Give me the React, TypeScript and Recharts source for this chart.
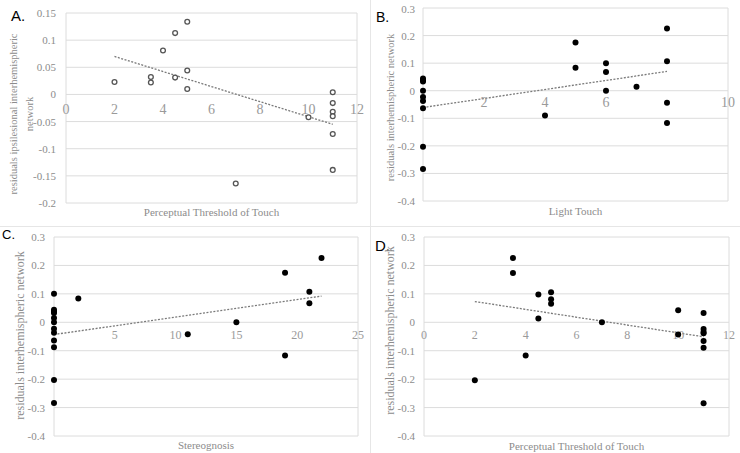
import { ScatterChart, Scatter, XAxis, YAxis, CartesianGrid, ReferenceLine, ReferenceDot } from 'recharts';

const serif = '"Liberation Serif", "Times New Roman", serif';
const sans = '"Liberation Sans", Arial, sans-serif';
const tickGrey = '#8c8c8c';
const gridGrey = '#dcdcdc';

// A. ipsilesional network vs perceptual threshold of touch (open markers)
const aX = [2, 3.5, 3.5, 4, 4.5, 4.5, 5, 5, 5, 7, 10, 11, 11, 11, 11, 11, 11];
const aY = [0.023, 0.032, 0.022, 0.081, 0.113, 0.031, 0.134, 0.044, 0.01, -0.164, -0.042, 0.004, -0.016, -0.032, -0.04, -0.073, -0.139];
const aTrend = [{ x: 2, y: 0.07 }, { x: 11, y: -0.055 }];
const aXTicks = [0, 2, 4, 6, 8, 10, 12];
const aYTicks = [-0.2, -0.15, -0.1, -0.05, 0, 0.05, 0.1, 0.15];

// B. interhemispheric network vs light touch
const bX = [0, 0, 0, 0, 0, 0, 0, 0, 0, 4, 5, 5, 6, 6, 6, 7, 8, 8, 8, 8];
const bY = [0.044, 0.038, 0.033, 0, -0.023, -0.037, -0.064, -0.203, -0.284, -0.09, 0.175, 0.083, 0.1, 0.068, 0, 0.014, 0.226, 0.107, -0.044, -0.117];
const bTrend = [{ x: 0, y: -0.061 }, { x: 8, y: 0.07 }];
const bXTicks = [0, 2, 4, 6, 8, 10];
const bXLabels = [2, 4, 6, 10];

// C. interhemispheric network vs stereognosis
const cX = [0, 0, 0, 0, 0, 0, 0, 0, 0, 0, 0, 0, 2, 11, 15, 19, 19, 21, 21, 22];
const cY = [0.1, 0.044, 0.038, 0.033, 0.015, 0, -0.023, -0.037, -0.064, -0.088, -0.203, -0.284, 0.084, -0.042, 0, 0.174, -0.117, 0.107, 0.067, 0.226];
const cTrend = [{ x: 0, y: -0.043 }, { x: 22, y: 0.092 }];
const cXTicks = [0, 5, 10, 15, 20, 25];
const cXLabels = [5, 10, 15, 20, 25];

// D. interhemispheric network vs perceptual threshold of touch
const dX = [2, 3.5, 3.5, 4, 4.5, 4.5, 5, 5, 5, 7, 10, 10, 11, 11, 11, 11, 11, 11, 11];
const dY = [-0.204, 0.226, 0.173, -0.117, 0.098, 0.013, 0.106, 0.081, 0.065, 0, 0.042, -0.043, 0.033, -0.024, -0.034, -0.039, -0.066, -0.09, -0.285];
const dTrend = [{ x: 2, y: 0.073 }, { x: 11, y: -0.051 }];
const dXTicks = [0, 2, 4, 6, 8, 10, 12];

const wideYTicks = [-0.4, -0.3, -0.2, -0.1, 0, 0.1, 0.2, 0.3];

const toPoints = (xs: number[], ys: number[]) => xs.map((x, i) => ({ x, y: ys[i] }));

const OpenDot = (p: any) => <circle cx={p.cx} cy={p.cy} r={2.4} fill="#fff" stroke="#555" strokeWidth={1.3} />;
const SolidDot = (p: any) => <circle cx={p.cx} cy={p.cy} r={3} fill="#000" />;

interface PanelProps {
  letter: string;
  letterStyle: React.CSSProperties;
  left: number;
  top: number;
  height: number;
  plot: { top: number; right: number; left: number; bottom: number };
  data: { x: number; y: number }[];
  trend: { x: number; y: number }[];
  xDomain: [number, number];
  xTicks: number[];
  xLabels: number[];
  xLabelSize: number;
  xLabelDrop: number;
  yDomain: [number, number];
  yTicks: number[];
  yTickGap: number;
  yTitle: string[];
  yTitleX: number[];
  yTitleDy: number;
  yTitleSize: number;
  xTitle: string;
  xTitleDy: number;
  xTitleSize: number;
  open?: boolean;
}

const Panel = (p: PanelProps) => {
  const width = 370;
  return (
    <div style={{ position: 'absolute', left: p.left, top: p.top, width, height: p.height }}>
      <div style={{ position: 'absolute', fontFamily: sans, color: '#000', lineHeight: 1, ...p.letterStyle }}>{p.letter}</div>
      <ScatterChart width={width} height={p.height} margin={{ top: p.plot.top, right: p.plot.right, left: 0, bottom: 0 }}>
        <CartesianGrid stroke={gridGrey} />
        <XAxis
          type="number"
          dataKey="x"
          domain={p.xDomain}
          ticks={p.xTicks}
          tick={false}
          tickLine={false}
          axisLine={false}
          height={p.plot.bottom}
          label={({ viewBox }: any) => (
            <text
              x={viewBox.x + viewBox.width / 2}
              y={viewBox.y + p.xTitleDy}
              textAnchor="middle"
              dominantBaseline="central"
              fill={tickGrey}
              fontSize={p.xTitleSize}
              fontFamily={serif}
            >
              {p.xTitle}
            </text>
          )}
        />
        <YAxis
          type="number"
          dataKey="y"
          domain={p.yDomain}
          ticks={p.yTicks}
          width={p.plot.left}
          tickLine={false}
          axisLine={false}
          tickSize={0}
          tickMargin={p.yTickGap}
          tick={(t: any) => (
            <text x={t.x} y={t.y} textAnchor="end" dominantBaseline="central" fill={tickGrey} fontSize={11} fontFamily={serif}>
              {String(t.payload.value)}
            </text>
          )}
          label={({ viewBox }: any) => {
            const cy = viewBox.y + viewBox.height / 2 + p.yTitleDy;
            return (
              <g>
                {p.yTitle.map((line, i) => (
                  <text
                    key={line}
                    x={p.yTitleX[i]}
                    y={cy}
                    transform={`rotate(-90 ${p.yTitleX[i]} ${cy})`}
                    textAnchor="middle"
                    dominantBaseline="central"
                    fill={tickGrey}
                    fontSize={p.yTitleSize}
                    fontFamily={serif}
                  >
                    {line}
                  </text>
                ))}
              </g>
            );
          }}
        />
        {p.xLabels.map((t) => (
          <ReferenceDot
            key={t}
            x={t}
            y={0}
            r={0}
            fill="none"
            stroke="none"
            label={({ viewBox }: any) => (
              <text x={viewBox.x + viewBox.width / 2} y={viewBox.y + viewBox.height / 2 + p.xLabelDrop} textAnchor="middle" fill="#9a9a9a" fontSize={p.xLabelSize} fontFamily={serif}>
                {String(t)}
              </text>
            )}
          />
        ))}
        <ReferenceLine segment={p.trend} stroke="#7a7a7a" strokeWidth={1.3} strokeDasharray="2 1.5" />
        <Scatter data={p.data} shape={p.open ? OpenDot : SolidDot} isAnimationActive={false} />
      </ScatterChart>
    </div>
  );
};

export default function App() {
  return (
    <div style={{ position: 'absolute', left: 0, top: 0, width: 740, height: 453, background: '#fff', overflow: 'hidden' }}>
      <div style={{ position: 'absolute', left: 370, top: 0, width: 1, height: 453, background: '#e6e6e6' }} />
      <div style={{ position: 'absolute', left: 0, top: 226, width: 740, height: 1, background: '#e6e6e6' }} />
      <Panel
        letter="A."
        letterStyle={{ left: 11, top: 8, fontSize: 15 }}
        left={0}
        top={0}
        height={226}
        plot={{ top: 13, right: 13, left: 66, bottom: 23 }}
        data={toPoints(aX, aY)}
        trend={aTrend}
        xDomain={[0, 12]}
        xTicks={aXTicks}
        xLabels={aXTicks}
        xLabelSize={14}
        xLabelDrop={20}
        yDomain={[-0.2, 0.15]}
        yTicks={aYTicks}
        yTickGap={10}
        yTitle={['residuals ipsilesional interhemispheric', 'network']}
        yTitleX={[13, 29]}
        yTitleDy={6}
        yTitleSize={10.5}
        xTitle="Perceptual Threshold of Touch"
        xTitleDy={9}
        xTitleSize={11}
        open
      />
      <Panel
        letter="B."
        letterStyle={{ left: 6, top: 10, fontSize: 14 }}
        left={370}
        top={0}
        height={226}
        plot={{ top: 8, right: 12, left: 53, bottom: 25 }}
        data={toPoints(bX, bY)}
        trend={bTrend}
        xDomain={[0, 10]}
        xTicks={bXTicks}
        xLabels={bXLabels}
        xLabelSize={14}
        xLabelDrop={16}
        yDomain={[-0.4, 0.3]}
        yTicks={wideYTicks}
        yTickGap={8}
        yTitle={['residuals interhemispheric network']}
        yTitleX={[20]}
        yTitleDy={3}
        yTitleSize={10.5}
        xTitle="Light Touch"
        xTitleDy={10}
        xTitleSize={11}
      />
      <Panel
        letter="C."
        letterStyle={{ left: 2, top: 2, fontSize: 13 }}
        left={0}
        top={226}
        height={227}
        plot={{ top: 11, right: 12, left: 54, bottom: 17 }}
        data={toPoints(cX, cY)}
        trend={cTrend}
        xDomain={[0, 25]}
        xTicks={cXTicks}
        xLabels={cXLabels}
        xLabelSize={12}
        xLabelDrop={17}
        yDomain={[-0.4, 0.3]}
        yTicks={wideYTicks}
        yTickGap={9}
        yTitle={['residuals  interhemispheric  network']}
        yTitleX={[20]}
        yTitleDy={-1}
        yTitleSize={12}
        xTitle="Stereognosis"
        xTitleDy={9}
        xTitleSize={11}
      />
      <Panel
        letter="D."
        letterStyle={{ left: 5, top: 12, fontSize: 15 }}
        left={370}
        top={226}
        height={227}
        plot={{ top: 11, right: 11, left: 54, bottom: 17 }}
        data={toPoints(dX, dY)}
        trend={dTrend}
        xDomain={[0, 12]}
        xTicks={dXTicks}
        xLabels={dXTicks}
        xLabelSize={12}
        xLabelDrop={17}
        yDomain={[-0.4, 0.3]}
        yTicks={wideYTicks}
        yTickGap={9}
        yTitle={['residuals interhemispheric network']}
        yTitleX={[20]}
        yTitleDy={-6}
        yTitleSize={12}
        xTitle="Perceptual Threshold of Touch"
        xTitleDy={10}
        xTitleSize={11}
      />
    </div>
  );
}
